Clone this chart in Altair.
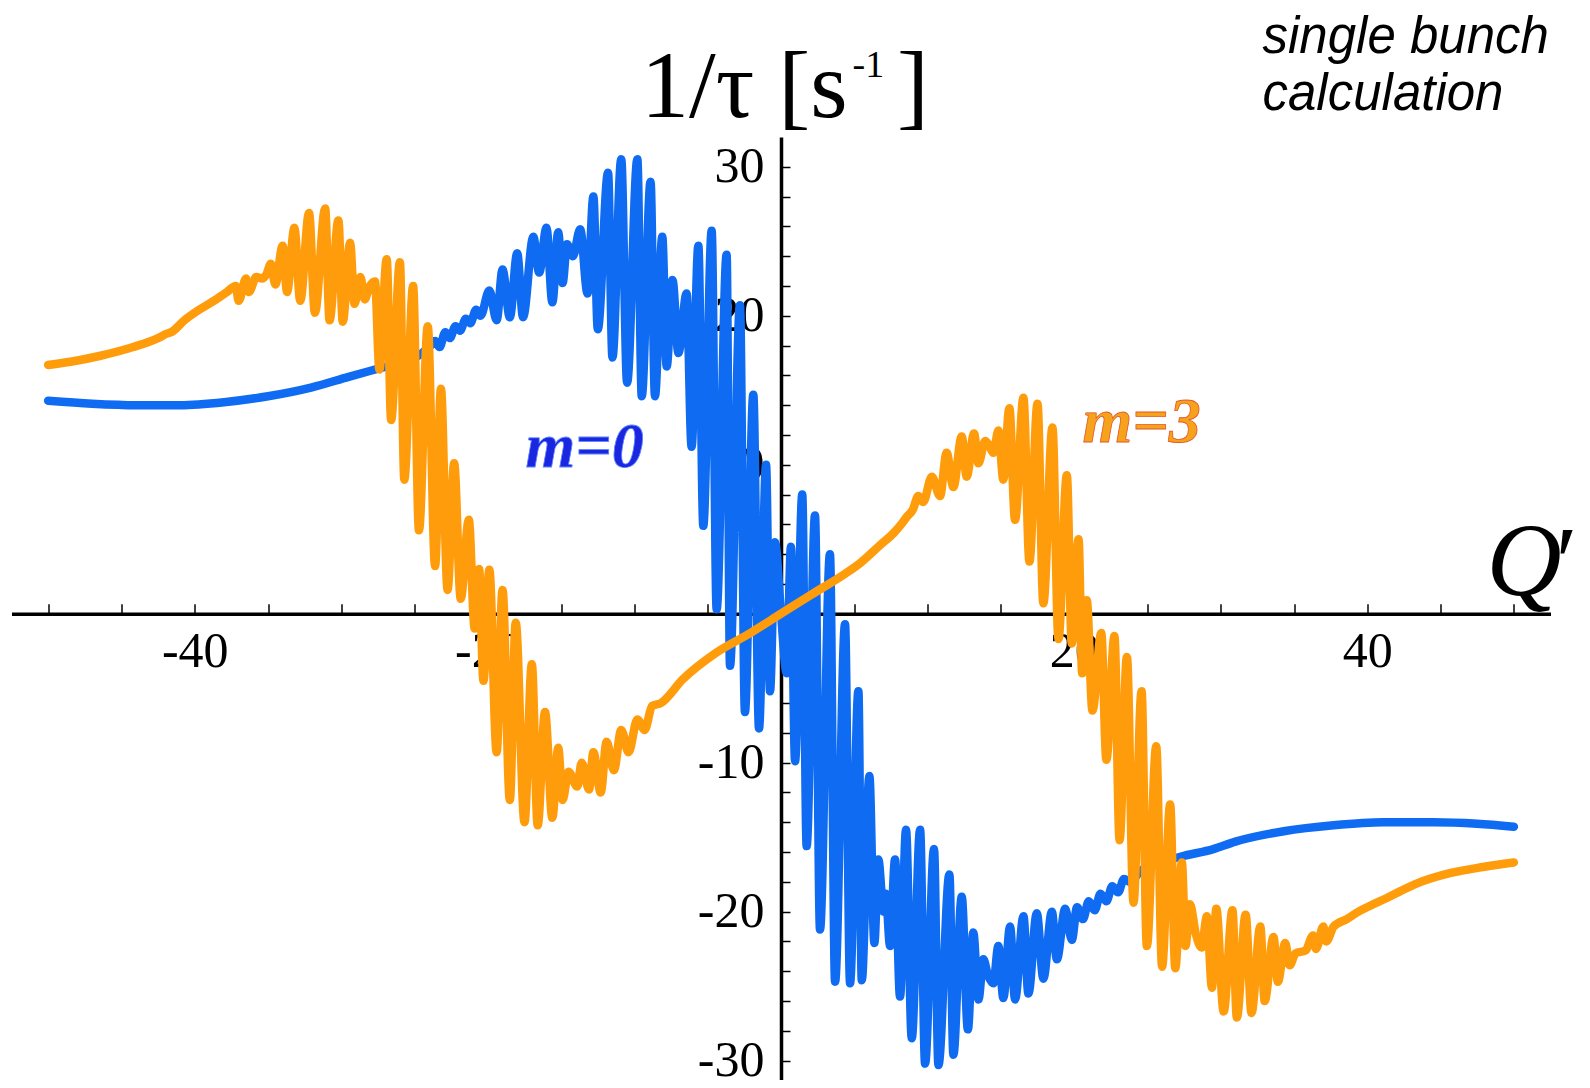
import altair as alt
import pandas as pd

# ---- data -------------------------------------------------------------------
blue_q = [-50, -47, -44, -41, -38, -35, -32, -29.5, -27.3, -25.1, -24.0,
          -23.6, -23.3, -22.9, -22.6, -22.2, -21.9, -21.5, -21.2, -20.8, -20.5,
          -19.9, -19.4, -19.0, -18.5, -18.0, -17.6, -16.9, -16.5, -16.0, -15.6,
          -15.2, -14.9, -14.6, -14.2, -13.7, -13.2, -12.8, -12.5, -11.8, -11.5,
          -10.9, -10.5, -9.8, -9.5, -8.9, -8.6, -8.1, -7.8, -7.4, -7.0,
          -6.44, -6.1, -5.64, -5.3, -4.73, -4.39, -3.71, -3.48, -2.80, -2.46,
          -1.89, -1.50, -1.02, -0.75, -0.41, 0.0, 0.39, 0.68, 0.96, 1.45,
          1.75, 2.32, 2.66, 3.34, 3.69, 4.37, 4.71, 5.28, 5.51, 6.03,
          6.37, 6.64, 7.0, 7.15, 7.44, 7.78, 8.12, 8.53, 8.92, 9.49,
          9.83, 10.44, 10.74, 11.49, 11.76, 12.33, 12.75, 13.12, 13.47, 13.81,
          14.1, 14.49, 14.83, 15.17, 15.63, 15.97, 16.54, 16.88, 17.45, 17.9,
          18.48, 18.82, 19.39, 19.84, 20.2, 20.6, 21.0, 21.4, 21.8, 22.2,
          22.6, 23.0, 23.4, 23.8, 24.5, 25.9, 27.3, 29.5, 31.0, 34.3,
          37.7, 41.1, 44.5, 47.5, 50.0]
blue_v = [14.3, 14.1, 14.0, 14.0, 14.2, 14.6, 15.2, 15.9, 16.5, 17.1, 17.9,
          18.3, 17.9, 18.9, 18.5, 19.3, 19.0, 19.8, 19.5, 20.4, 20.0,
          21.7, 19.7, 23.1, 19.9, 24.2, 19.9, 25.3, 22.9, 25.9, 20.9,
          25.6, 22.2, 24.8, 24.0, 25.8, 21.5, 28.0, 19.1, 29.6, 17.2,
          30.5, 15.5, 30.5, 14.6, 29.0, 14.6, 25.3, 16.6, 22.4, 17.5,
          21.5, 11.2, 24.7, 5.9, 25.7, 0.3, 24.1, -3.5, 20.7, -6.6,
          14.7, -7.7, 10.0, -5.2, 4.8, 0.0, -4.0, 4.5, -9.9, 8.0,
          -15.6, 6.6, -21.2, 4.0, -24.7, -0.7, -24.8, -5.2, -24.6, -10.9,
          -22.1, -16.5, -20.0, -18.8, -22.3, -16.5, -25.7, -14.5, -28.5, -14.5,
          -30.2, -15.8, -30.3, -17.5, -29.6, -19.0, -27.9, -21.4, -25.9, -23.2,
          -24.2, -24.8, -22.3, -25.8, -21.0, -25.9, -20.3, -25.5, -20.1, -24.5,
          -20.0, -23.2, -19.8, -21.9, -19.7, -20.5, -19.3, -19.9, -18.8, -19.3,
          -18.3, -18.7, -17.8, -18.0, -17.3, -16.7, -16.3, -15.8, -15.3, -14.6,
          -14.2, -14.0, -14.0, -14.1, -14.3]

orange_q = [-50, -48, -46.5, -44.2, -42.5, -41.9, -41.6, -40.7, -39.7, -38.7,
            -37.8, -37.2, -37.0, -36.5, -36.3, -35.8, -35.4, -35.1, -34.8, -34.5,
            -34.0, -33.7, -33.2, -32.8, -32.2, -31.8, -31.1, -30.8, -30.2, -29.9,
            -29.4, -29.1, -28.7, -28.4, -28.1, -27.7, -27.4, -26.9, -26.6, -26.0,
            -25.7, -25.1, -24.7, -24.1, -23.6, -23.2, -22.75, -22.3, -21.85, -21.3,
            -20.9, -20.6, -20.3, -19.9, -19.4, -19.0, -18.5, -18.1, -17.5, -17.0,
            -16.6, -16.1, -15.6, -15.2, -14.9, -14.5, -13.9, -13.6, -13.1, -12.8,
            -12.3, -11.9, -11.4, -10.9, -10.4, -9.8, -9.3, -8.8, -8.2, -6.7,
            -4.4, -2.1, 0.0, 2.1, 4.4, 5.4, 6.76, 7.67, 8.2, 8.58,
            9.0, 9.37, 9.7, 10.29, 10.85, 11.3, 11.76, 12.33, 12.67, 13.17,
            13.47, 13.93, 14.2, 14.49, 14.83, 15.17, 15.58, 15.97, 16.54, 16.95,
            17.5, 17.9, 18.52, 18.93, 19.5, 19.84, 20.3, 20.55, 20.86, 21.25,
            21.85, 22.2, 22.75, 23.1, 23.6, 24.05, 24.6, 24.96, 25.6, 26.0,
            26.55, 26.9, 27.35, 27.6, 27.9, 28.3, 28.7, 29.06, 29.4, 29.7,
            30.2, 30.8, 31.1, 31.7, 32.1, 32.7, 33.0, 33.6, 33.9, 34.4,
            34.7, 35.1, 35.8, 36.3, 36.5, 37.0, 37.2, 37.7, 38.6, 39.4,
            40.2, 41.3, 42.3, 43.4, 45.7, 47.9, 50.0]
orange_v = [16.7, 17.0, 17.3, 17.9, 18.5, 18.8, 18.9, 19.7, 20.4, 21.0,
            21.6, 22.0, 21.0, 22.5, 21.6, 22.6, 22.5, 22.8, 23.5, 22.1,
            24.7, 21.6, 25.9, 21.0, 26.9, 20.2, 27.2, 19.7, 26.4, 19.6,
            24.9, 20.8, 22.6, 21.1, 21.9, 22.3, 16.4, 23.8, 13.0, 23.6,
            9.0, 22.0, 5.6, 19.3, 3.2, 15.1, 1.6, 10.1, 1.0, 6.3,
            -1.0, 3.0, -4.5, 2.95, -9.3, 1.6, -12.5, -0.6, -14.0, -3.4,
            -14.2, -6.6, -13.7, -9.0, -12.5, -10.6, -11.6, -10.0, -11.8, -9.3,
            -12.0, -8.6, -10.5, -7.8, -9.3, -7.1, -7.8, -6.2, -6.0, -4.4,
            -2.6, -1.3, 0.0, 1.3, 2.7, 3.4, 4.6, 5.4, 6.0, 6.5,
            7.0, 7.9, 7.5, 9.2, 7.9, 10.8, 8.5, 11.9, 9.2, 12.1,
            10.1, 11.6, 11.3, 10.8, 12.3, 9.0, 13.8, 6.3, 14.5, 3.5,
            14.1, 0.7, 12.5, -1.7, 9.3, -2.0, 5.0, -4.0, 0.9, -6.5,
            -1.3, -9.8, -1.5, -15.2, -2.9, -19.4, -5.2, -22.3, -8.9, -23.7,
            -12.8, -23.8, -16.7, -22.3, -19.5, -21.5, -22.4, -20.3, -25.1, -19.8,
            -26.7, -19.9, -27.1, -20.2, -26.8, -21.0, -26.0, -21.7, -24.7, -22.1,
            -23.6, -22.8, -22.6, -21.6, -22.5, -21.0, -22.0, -21.0, -20.5, -20.0,
            -19.6, -19.1, -18.6, -18.1, -17.4, -17.0, -16.7]

x_tick_values = [-50, -45, -40, -35, -30, -25, -20, -15, -10, -5,
                 5, 10, 15, 20, 25, 30, 35, 40, 45, 50]
x_label_values = [-40, -20, 20, 40]
y_tick_values = [-30, -28, -26, -24, -22, -20, -18, -16, -14, -12, -10, -8, -6, -4, -2,
                 2, 4, 6, 8, 10, 12, 14, 16, 18, 20, 22, 24, 26, 28, 30]
y_label_values = [-30, -20, -10, 10, 20, 30]

series_labels = ["m=0", "m=3"]
y_title_parts = ["1/τ [s", "-1", "]"]
x_title_parts = ["Q", "′"]
note_lines = ["single bunch", "calculation"]

BLUE = "#0f6cf2"
ORANGE = "#ff9c0c"

W, H = 1539, 943
X_DOM = [-52.5, 52.5]
Y_DOM = [-31.3, 32.0]
x0 = W * (0 - X_DOM[0]) / (X_DOM[1] - X_DOM[0])
y0 = H * (Y_DOM[1] - 0) / (Y_DOM[1] - Y_DOM[0])

df_blue = pd.DataFrame({"q": blue_q, "v": blue_v})
df_orange = pd.DataFrame({"q": orange_q, "v": orange_v})

xs = alt.Scale(domain=X_DOM, nice=False, zero=False)
ys = alt.Scale(domain=Y_DOM, nice=False, zero=False)

line_kw = dict(strokeWidth=8.5, interpolate="monotone", strokeCap="round",
               strokeJoin="round", clip=False)

# blue line carries the tick-only axes (ticks point up / right)
blue = alt.Chart(df_blue).mark_line(color=BLUE, **line_kw).encode(
    x=alt.X("q:Q", scale=xs, axis=alt.Axis(
        orient="top", offset=-y0, values=x_tick_values, labels=False,
        domain=False, ticks=True, tickSize=10, tickWidth=1.5, tickColor="black",
        grid=False, title=None)),
    y=alt.Y("v:Q", scale=ys, axis=alt.Axis(
        orient="right", offset=-(W - x0), values=y_tick_values, labels=False,
        domain=False, ticks=True, tickSize=9, tickWidth=1.5, tickColor="black",
        grid=False, title=None)),
)

# orange line carries the axis lines and the labels
orange = alt.Chart(df_orange).mark_line(color=ORANGE, **line_kw).encode(
    x=alt.X("q:Q", scale=xs, axis=alt.Axis(
        orient="bottom", offset=-(H - y0), values=x_label_values, ticks=False,
        tickSize=0, domain=True, domainColor="black", domainWidth=3.5,
        labelExpr="'' + datum.value",
        labelFont="Liberation Serif", labelFontSize=50, labelColor="black",
        labelPadding=13, grid=False, title=None)),
    y=alt.Y("v:Q", scale=ys, axis=alt.Axis(
        orient="left", offset=-x0, values=y_label_values, ticks=False,
        tickSize=0, domain=True, domainColor="black", domainWidth=3.5,
        labelExpr="'' + datum.value",
        labelFont="Liberation Serif", labelFontSize=50, labelColor="black",
        labelPadding=17, grid=False, title=None)),
)

one = alt.Data(values=[{}])


def txt(text, x, y, **kw):
    return alt.Chart(one).mark_text(text=text, **kw).encode(
        x=alt.value(x), y=alt.value(y))


texts = [
    txt(y_title_parts[0], 629.5, -20, font="Liberation Serif", fontSize=96,
        align="left", baseline="alphabetic", color="black"),
    txt(y_title_parts[1], 841, -60, font="Liberation Serif", fontSize=38,
        align="left", baseline="alphabetic", color="black"),
    txt(y_title_parts[2], 885.5, -20, font="Liberation Serif", fontSize=96,
        align="left", baseline="alphabetic", color="black"),
    txt(x_title_parts[0], 1475, 458, font="Liberation Serif", fontSize=104,
        fontStyle="italic", align="left", baseline="alphabetic", color="black"),
    txt(x_title_parts[1], 1538, 458, font="Liberation Serif", fontSize=100,
        fontStyle="italic", align="left", baseline="alphabetic", color="black"),
    txt(note_lines[0], 1251, -84, font="Liberation Sans", fontSize=51,
        fontStyle="italic", align="left", baseline="alphabetic", color="black"),
    txt(note_lines[1], 1251, -27, font="Liberation Sans", fontSize=51,
        fontStyle="italic", align="left", baseline="alphabetic", color="black"),
    txt(series_labels[0], 573, 330, font="Liberation Serif", fontSize=64,
        fontStyle="italic", fontWeight="bold", align="center",
        baseline="alphabetic", color="#1b26e0", stroke="#5a86ff", strokeWidth=0.8),
    txt(series_labels[1], 1130, 305, font="Liberation Serif", fontSize=64,
        fontStyle="italic", fontWeight="bold", align="center",
        baseline="alphabetic", color="#f7a21c", stroke="#e2582a", strokeWidth=0.8),
]

chart = alt.layer(blue, orange, *texts).resolve_scale(
    x="independent", y="independent"
).properties(
    width=W, height=H, autosize="none",
    padding={"left": 3.5, "top": 129, "right": 30, "bottom": 0},
    background="white",
).configure_view(strokeWidth=0)

chart.save("out.html", embed_options={"renderer": "svg", "actions": False})
